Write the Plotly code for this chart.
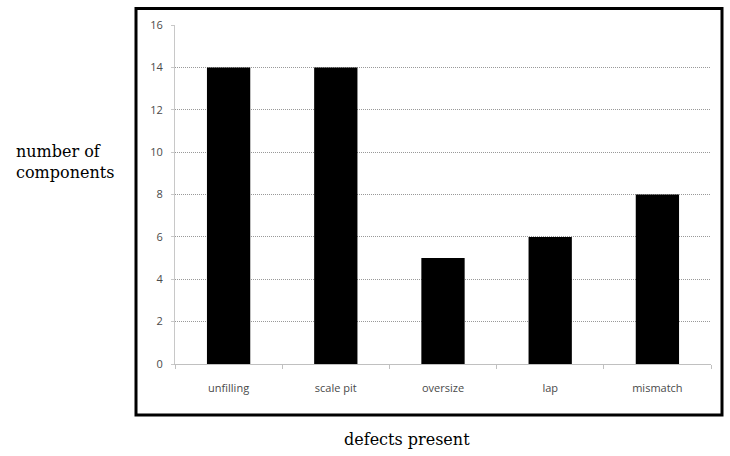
import plotly.graph_objects as go

categories = ["unfilling", "scale pit", "oversize", "lap", "mismatch"]
values = [14, 14, 5, 6, 8]
y_ticks = [0, 2, 4, 6, 8, 10, 12, 14, 16]

L, R, T, B = 175, 711, 24.5, 364
W, H = 730, 456
pw, ph = R - L, B - T

def px(x):
    return (x - L) / pw

def py(y):
    return (B - y) / ph

tick_font = dict(family="Liberation Sans Narrow, Open Sans, sans-serif", size=11, color="#4a4a4a")
serif = dict(family="DejaVu Serif, serif", size=16, color="black")

fig = go.Figure()
fig.add_trace(go.Bar(x=categories, y=values, marker=dict(color="black", line=dict(width=0)), width=0.404))

fig.update_layout(
    width=W, height=H,
    margin=dict(l=L, r=W - R, t=T, b=H - B),
    paper_bgcolor="white", plot_bgcolor="white",
    showlegend=False,
    xaxis=dict(showgrid=False, showline=True, linecolor="#c0c0c0", linewidth=1,
               ticks="outside", ticklen=4, tickcolor="#c0c0c0",
               tickson="boundaries", tickfont=tick_font, ticklabelstandoff=14,
               fixedrange=True),
    yaxis=dict(range=[0, 16], tickvals=y_ticks, showgrid=True, gridcolor="#999999",
               griddash="1px,1px", gridwidth=1, showline=True, linecolor="#c8c8c8",
               ticks="outside", ticklen=3, tickcolor="#c8c8c8", zeroline=False,
               tickfont=tick_font, ticklabelstandoff=6, fixedrange=True),
    shapes=[dict(type="rect", xref="paper", yref="paper",
                 x0=px(136), x1=px(722), y0=py(415), y1=py(8),
                 line=dict(color="black", width=3), fillcolor="rgba(0,0,0,0)", layer="above")],
    annotations=[
        dict(text="number of<br>components", xref="paper", yref="paper",
             x=px(65), y=py(162), xanchor="center", yanchor="middle",
             showarrow=False, align="left", font=serif),
        dict(text="defects present", xref="paper", yref="paper",
             x=px(407), y=py(440), xanchor="center", yanchor="middle",
             showarrow=False, font=serif),
    ],
)

fig.write_html("out.html", config={"displayModeBar": False},
               post_script="document.body.style.margin='0';document.body.style.overflow='hidden';")
